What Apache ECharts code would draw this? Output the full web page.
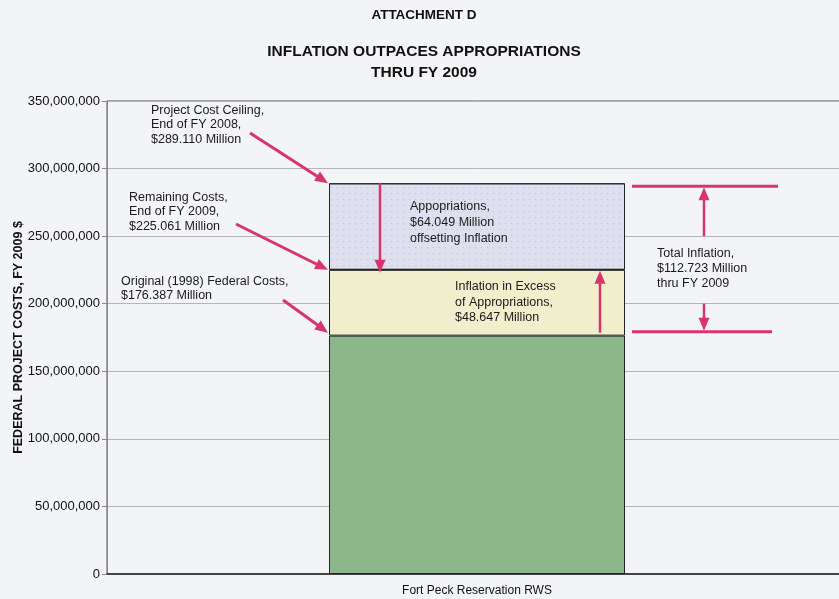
<!DOCTYPE html>
<html>
<head>
<meta charset="utf-8">
<script src="https://cdn.jsdelivr.net/npm/echarts@6/dist/echarts.min.js"></script>
<style>
html,body{margin:0;padding:0;background:#f3f4f6;}
#c{width:839px;height:599px;}
</style>
</head>
<body>
<div id="c"></div>
<script>
var categories = ['Fort Peck Reservation RWS'];
var originalCosts = [176387000];
var inflationExcess = [48674000];
var appropriations = [64049000];
var yTicks = [0, 50000000, 100000000, 150000000, 200000000, 250000000, 300000000, 350000000];
var ceilingValue = 289110000;
var remainingValue = 225061000;

var chart = echarts.init(document.getElementById('c'));
var FONT = 'Liberation Sans, Arial, sans-serif';
var PINK = '#d8356c';

chart.setOption({
  backgroundColor: '#f3f4f6',
  animation: false,
  title: [
    {text: 'ATTACHMENT D', left: 419, textAlign: 'center', top: 3, textStyle: {fontFamily: FONT, fontSize: 13.5, fontWeight: 'bold', color: '#111'}},
    {text: 'INFLATION OUTPACES APPROPRIATIONS', left: 419, textAlign: 'center', top: 39,
      textStyle: {fontFamily: FONT, fontSize: 15.5, fontWeight: 'bold', color: '#111'}},
    {text: 'THRU FY 2009', left: 419, textAlign: 'center', top: 60,
      textStyle: {fontFamily: FONT, fontSize: 15.5, fontWeight: 'bold', color: '#111'}}
  ],
  grid: {left: 107, right: -8, top: 101, bottom: 25, outerBoundsMode: 'none', containLabel: false,
    show: true, borderColor: '#555', borderWidth: 1, backgroundColor: 'transparent'},
  xAxis: {
    type: 'category', data: categories,
    axisLine: {lineStyle: {color: '#444', width: 2}},
    axisTick: {show: false},
    axisLabel: {fontFamily: FONT, fontSize: 12, color: '#111', margin: 11}
  },
  yAxis: {
    type: 'value', min: yTicks[0], max: yTicks[yTicks.length - 1], interval: yTicks[1] - yTicks[0],
    name: 'FEDERAL PROJECT COSTS, FY 2009 $', nameLocation: 'middle', nameGap: 82, nameMoveOverlap: false,
    nameTextStyle: {fontFamily: FONT, fontSize: 12.5, fontWeight: 'bold', color: '#111'},
    axisLine: {show: true, lineStyle: {color: '#888'}},
    axisTick: {show: true, length: 5, lineStyle: {color: '#888'}},
    axisLabel: {fontFamily: FONT, fontSize: 13, color: '#111', margin: 7,
      formatter: function (v) { return v.toLocaleString('en-US'); }},
    splitLine: {lineStyle: {color: '#b5b5b5'}}
  },
  series: [
    {type: 'bar', stack: 't', data: originalCosts, barWidth: 296,
      itemStyle: {color: '#8cb78a', borderColor: '#222', borderWidth: 1}},
    {type: 'bar', stack: 't', data: inflationExcess, barWidth: 296,
      itemStyle: {color: '#f0eecb', borderColor: '#222', borderWidth: 1}},
    {type: 'bar', stack: 't', data: appropriations, barWidth: 296,
      itemStyle: {color: '#dfe0ef', borderColor: '#222', borderWidth: 1,
        decal: {symbol: 'circle', symbolSize: 0.5, dashArrayX: 3, dashArrayY: 3, color: 'rgba(150,150,190,0.35)'}}}
  ]
});

function py(v) { return chart.convertToPixel({yAxisIndex: 0}, v); }

function arrow(x1, y1, x2, y2, w) {
  var dx = x2 - x1, dy = y2 - y1, len = Math.sqrt(dx * dx + dy * dy);
  var ux = dx / len, uy = dy / len;
  var hl = 13, hw = 5.5;
  var bx = x2 - ux * hl, by = y2 - uy * hl;
  return [
    {type: 'line', shape: {x1: x1, y1: y1, x2: bx + ux, y2: by + uy}, style: {stroke: PINK, lineWidth: w || 3}, z: 100},
    {type: 'polygon', shape: {points: [[x2, y2], [bx - uy * hw, by + ux * hw], [bx + uy * hw, by - ux * hw]]}, style: {fill: PINK}, z: 100}
  ];
}

function label(x, y, lines, lh) {
  return {type: 'text', x: x, y: y, z: 100,
    style: {text: lines.join('\n'), font: '12.5px ' + FONT, fill: '#1a1a1a', lineHeight: lh || 14.5}};
}

var yTop = py(ceilingValue), yMid = py(remainingValue), yBase = py(originalCosts[0]);
var g = [];
g = g.concat(arrow(250, 133, 328, yTop));
g = g.concat(arrow(236, 224, 328, yMid));
g = g.concat(arrow(283, 300, 328, yBase - 3));
g = g.concat(arrow(380, yTop, 380, yMid + 3, 2.5));
g = g.concat(arrow(600, yBase - 3, 600, yMid + 1, 2.5));
g.push({type: 'line', shape: {x1: 632, y1: yTop + 3, x2: 778, y2: yTop + 3}, style: {stroke: PINK, lineWidth: 3}, z: 100});
g.push({type: 'line', shape: {x1: 632, y1: yBase - 4, x2: 772, y2: yBase - 4}, style: {stroke: PINK, lineWidth: 3}, z: 100});
g = g.concat(arrow(704, py(250000000), 704, yTop + 4, 2.5));
g = g.concat(arrow(704, py(200000000), 704, yBase - 5, 2.5));
g.push(label(151, 103, ['Project Cost Ceiling,', 'End of FY 2008,', '$289.110 Million']));
g.push(label(129, 190, ['Remaining Costs,', 'End of FY 2009,', '$225.061 Million']));
g.push(label(121, 274, ['Original (1998) Federal Costs,', '$176.387 Million']));
g.push(label(410, 199, ['Appopriations,', '$64.049 Million', 'offsetting Inflation'], 16));
g.push(label(455, 279, ['Inflation in Excess', 'of Appropriations,', '$48.647 Million'], 15.5));
g.push(label(657, 246, ['Total Inflation,', '$112.723 Million', 'thru FY 2009'], 15));
chart.setOption({graphic: {elements: g}});
</script>
</body>
</html>
